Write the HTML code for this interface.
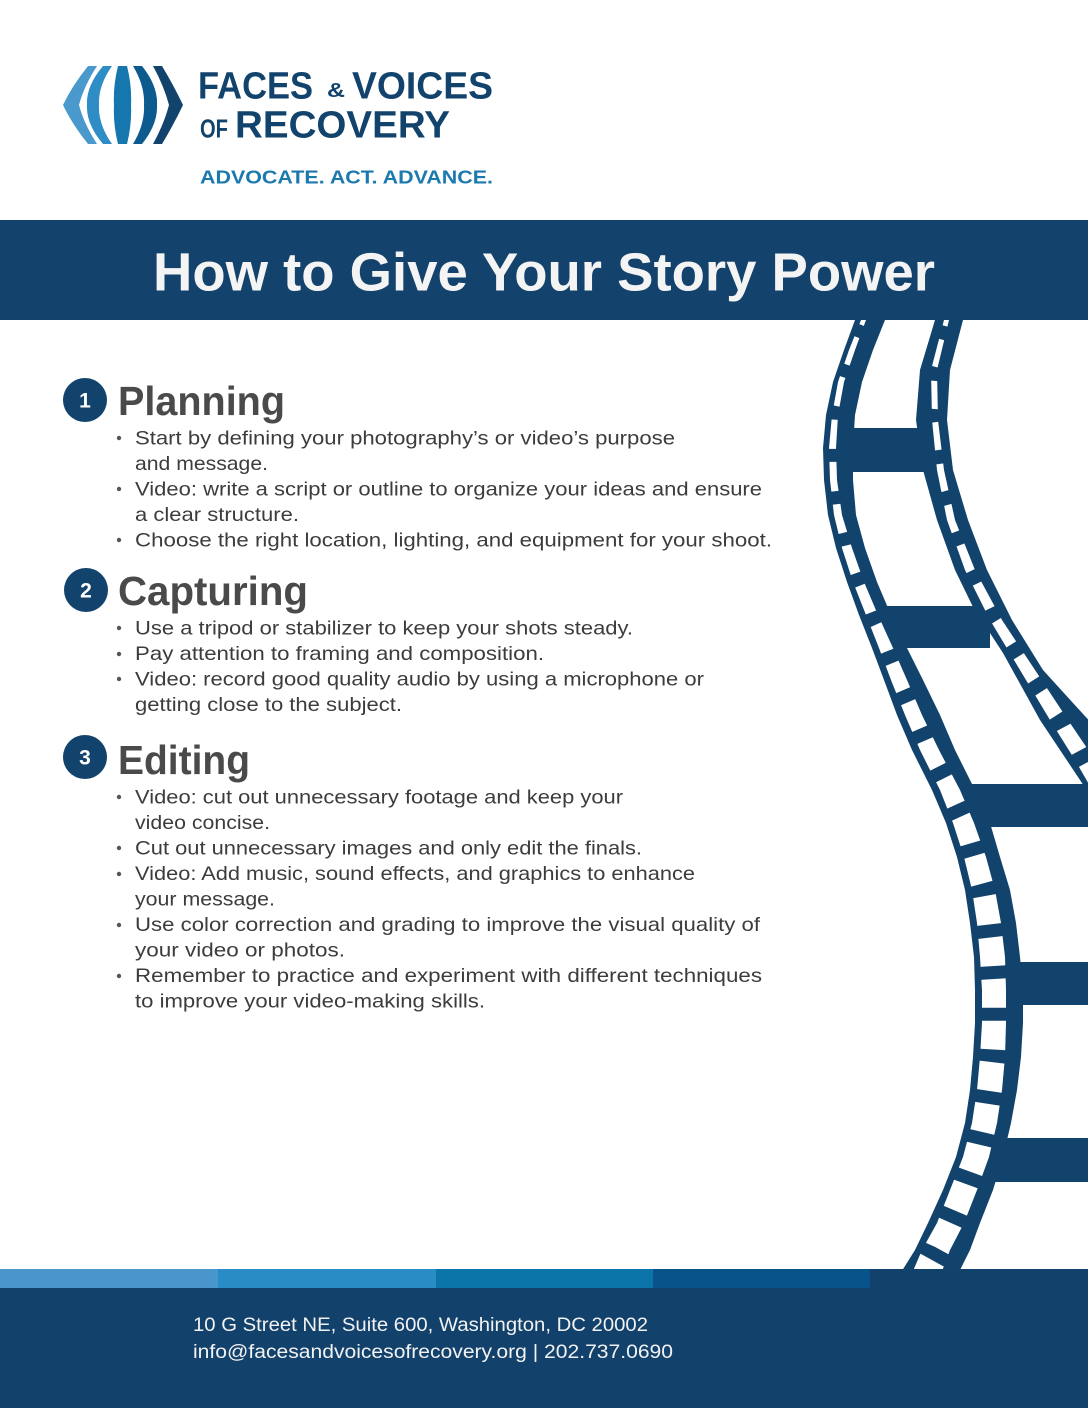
<!DOCTYPE html>
<html>
<head>
<meta charset="utf-8">
<style>
html,body{margin:0;padding:0;background:#fff;width:1088px;height:1408px;overflow:hidden}
svg{display:block}
</style>
</head>
<body>
<svg width="1088" height="1408" viewBox="0 0 1088 1408" xmlns="http://www.w3.org/2000/svg" font-family="'Liberation Sans', Arial, sans-serif">
<defs>
<mask id="mL" maskUnits="userSpaceOnUse" x="0" y="0" width="1088" height="1408">
<rect x="0" y="0" width="1088" height="1408" fill="black"/>
<path d="M877,300 L870,320 858,350 847,382 840,415 838,448 838,480 842,515 850,548 862,582 875,615 890,648 903,680 918,715 933,750 953,790 968,823 978,857 987,890 993,923 997,957 999,990 999,1023 997,1057 993,1090 988,1123 980,1157 968,1190 954,1223 942,1250 920,1290" fill="none" stroke="white" stroke-width="90" stroke-dasharray="29 13"/>
</mask>
<mask id="mR" maskUnits="userSpaceOnUse" x="0" y="0" width="1088" height="1408">
<rect x="0" y="0" width="1088" height="1408" fill="black"/>
<path d="M956,300 L949,320 935,370 931,420 938,470 952,520 971,570 995,620 1026,670 1058,720 1090,780 1110,800" fill="none" stroke="white" stroke-width="90" stroke-dasharray="28 14"/>
</mask>
</defs>

<rect x="0" y="0" width="1088" height="1408" fill="#ffffff"/>

<!-- Film strip -->
<g fill="#12436c">
<polygon points="862,300 855,320 844,350 833,382 826,415 823,448 824,480 828,515 836,548 847,582 859,615 872,648 884,680 897,715 912,750 932,790 946,823 957,857 965,890 970,923 974,957 975,990 975,1023 973,1057 970,1090 965,1123 956,1157 943,1190 928,1223 915,1250 890,1290 950,1290 970,1250 980,1223 993,1190 1003,1157 1011,1123 1017,1090 1021,1057 1023,1023 1023,990 1020,957 1016,923 1010,890 1000,857 990,823 975,790 955,750 940,715 923,680 907,648 891,615 877,582 865,548 856,515 853,480 853,448 855,415 862,382 873,350 885,320 892,300"/>
<polygon points="942,300 935,320 920,370 916,420 923,470 937,520 955,570 973,607 1003,653 1040,720 1080,780 1093,800 1130,800 1095,727 1073,703 1043,670 1012,620 987,570 968,520 953,470 947,420 950,370 963,320 970,300"/>
<rect x="845" y="428" width="80" height="44"/>
<rect x="875" y="606" width="115" height="42"/>
<rect x="955" y="784" width="133" height="43"/>
<rect x="1005" y="962" width="83" height="43"/>
<rect x="995" y="1138" width="93" height="44"/>
</g>
<polygon fill="#ffffff" mask="url(#mL)" points="867,300 861,320 849,350 838,382 832,415 829,448 830,480 834,515 842,548 853,582 866,615 879,648 891,680 905,715 920,750 940,790 953,823 964,857 972,890 977,923 980,957 982,990 982,1023 980,1057 977,1090 972,1123 963,1157 950,1190 937,1223 922,1250 905,1290 935,1290 950,1250 964,1223 977,1190 989,1157 997,1123 1002,1090 1005,1057 1006,1023 1006,990 1005,957 1001,923 995,890 986,857 974,823 960,790 939,750 922,715 907,680 893,648 878,615 864,582 852,548 842,515 837,480 836,448 838,415 844,382 855,350 866,320 872,300"/>
<polygon fill="#ffffff" mask="url(#mR)" points="951,300 944,320 931,370 932,420 937,470 947,520 965,570 990,620 1020,670 1050,720 1075,760 1098,800 1115,800 1095,760 1068,720 1035,670 1002,620 975,570 955,520 944,470 938,420 937,370 949,320 956,300"/>

<!-- Logo -->
<path fill="#4a99cd" d="M88,66 L97,66 Q84,86 79,105 Q84,124 97,144 L88,144 Q72,124 63,105 Q72,86 88,66 Z"/>
<path fill="#2f8dc5" d="M103,66 L112,66 Q98,86 99,105 Q98,124 112,144 L103,144 Q86,124 87,105 Q86,86 103,66 Z"/>
<path fill="#1577ae" d="M118,66 L127,66 Q132,86 131,105 Q132,124 127,144 L118,144 Q113,124 114,105 Q113,86 118,66 Z"/>
<path fill="#0d5a8e" d="M133,66 L142,66 Q158,86 157,105 Q158,124 142,144 L133,144 Q145,124 144,105 Q145,86 133,66 Z"/>
<path fill="#12436c" d="M153,66 L162,66 Q174,86 183,105 Q174,124 162,144 L153,144 Q164,124 169,105 Q164,86 153,66 Z"/>

<g fill="#12436c" font-weight="bold">
<text x="198" y="98.5" font-size="38" textLength="115" lengthAdjust="spacingAndGlyphs">FACES</text>
<text x="327" y="97" font-size="20" textLength="18" lengthAdjust="spacingAndGlyphs">&amp;</text>
<text x="352" y="98.5" font-size="38" textLength="141" lengthAdjust="spacingAndGlyphs">VOICES</text>
<text x="200" y="137.5" font-size="26" textLength="28" lengthAdjust="spacingAndGlyphs">OF</text>
<text x="235" y="137.5" font-size="38" textLength="215" lengthAdjust="spacingAndGlyphs">RECOVERY</text>
</g>
<text x="200" y="183.5" font-size="18" font-weight="bold" fill="#1b79ae" textLength="293" lengthAdjust="spacingAndGlyphs">ADVOCATE. ACT. ADVANCE.</text>

<!-- Header band -->
<rect x="0" y="220" width="1088" height="100" fill="#13436c"/>
<text x="153" y="290.5" font-size="54" font-weight="bold" fill="#f4f4f4" textLength="782" lengthAdjust="spacingAndGlyphs">How to Give Your Story Power</text>

<!-- Section numbers -->
<g fill="#12436c">
<circle cx="85" cy="400" r="22"/>
<circle cx="86" cy="590" r="22"/>
<circle cx="85" cy="757" r="22"/>
</g>
<g fill="#ffffff" font-size="21" font-weight="bold" text-anchor="middle">
<text x="85" y="407.5">1</text>
<text x="86" y="597.5">2</text>
<text x="85" y="764.5">3</text>
</g>

<!-- Headings -->
<g fill="#4a4a4a" font-size="41" font-weight="bold">
<text x="118" y="415" textLength="167" lengthAdjust="spacingAndGlyphs">Planning</text>
<text x="118" y="605" textLength="190" lengthAdjust="spacingAndGlyphs">Capturing</text>
<text x="118" y="774" textLength="132" lengthAdjust="spacingAndGlyphs">Editing</text>
</g>

<!-- Bullets -->
<g fill="#555555">
<circle cx="119" cy="438" r="2.2"/>
<circle cx="119" cy="489" r="2.2"/>
<circle cx="119" cy="540" r="2.2"/>
<circle cx="119" cy="628" r="2.2"/>
<circle cx="119" cy="654" r="2.2"/>
<circle cx="119" cy="679" r="2.2"/>
<circle cx="119" cy="797" r="2.2"/>
<circle cx="119" cy="848" r="2.2"/>
<circle cx="119" cy="874" r="2.2"/>
<circle cx="119" cy="925" r="2.2"/>
<circle cx="119" cy="976" r="2.2"/>
</g>

<!-- Body text -->
<g fill="#3c3c3c" font-size="19.5">
<text x="135" y="444.5" textLength="540" lengthAdjust="spacingAndGlyphs">Start by defining your photography’s or video’s purpose</text>
<text x="135" y="470" textLength="133" lengthAdjust="spacingAndGlyphs">and message.</text>
<text x="135" y="495.5" textLength="627" lengthAdjust="spacingAndGlyphs">Video: write a script or outline to organize your ideas and ensure</text>
<text x="135" y="521" textLength="164" lengthAdjust="spacingAndGlyphs">a clear structure.</text>
<text x="135" y="546.5" textLength="637" lengthAdjust="spacingAndGlyphs">Choose the right location, lighting, and equipment for your shoot.</text>

<text x="135" y="634.5" textLength="498" lengthAdjust="spacingAndGlyphs">Use a tripod or stabilizer to keep your shots steady.</text>
<text x="135" y="660" textLength="409" lengthAdjust="spacingAndGlyphs">Pay attention to framing and composition.</text>
<text x="135" y="685.5" textLength="569" lengthAdjust="spacingAndGlyphs">Video: record good quality audio by using a microphone or</text>
<text x="135" y="711" textLength="267" lengthAdjust="spacingAndGlyphs">getting close to the subject.</text>

<text x="135" y="803.5" textLength="488" lengthAdjust="spacingAndGlyphs">Video: cut out unnecessary footage and keep your</text>
<text x="135" y="829" textLength="135" lengthAdjust="spacingAndGlyphs">video concise.</text>
<text x="135" y="854.5" textLength="507" lengthAdjust="spacingAndGlyphs">Cut out unnecessary images and only edit the finals.</text>
<text x="135" y="880" textLength="560" lengthAdjust="spacingAndGlyphs">Video: Add music, sound effects, and graphics to enhance</text>
<text x="135" y="905.5" textLength="140" lengthAdjust="spacingAndGlyphs">your message.</text>
<text x="135" y="931" textLength="625" lengthAdjust="spacingAndGlyphs">Use color correction and grading to improve the visual quality of</text>
<text x="135" y="956.5" textLength="210" lengthAdjust="spacingAndGlyphs">your video or photos.</text>
<text x="135" y="982" textLength="627" lengthAdjust="spacingAndGlyphs">Remember to practice and experiment with different techniques</text>
<text x="135" y="1007.5" textLength="350" lengthAdjust="spacingAndGlyphs">to improve your video-making skills.</text>
</g>

<!-- Footer -->
<rect x="0" y="1269" width="218" height="20" fill="#4896cc"/>
<rect x="218" y="1269" width="218" height="20" fill="#2a8cc4"/>
<rect x="436" y="1269" width="217" height="20" fill="#0b74a8"/>
<rect x="653" y="1269" width="217" height="20" fill="#07538a"/>
<rect x="870" y="1269" width="218" height="20" fill="#12416b"/>
<rect x="0" y="1288" width="1088" height="120" fill="#12416b"/>
<g fill="#f2f2f2" font-size="19">
<text x="193" y="1331" textLength="455" lengthAdjust="spacingAndGlyphs">10 G Street NE, Suite 600, Washington, DC 20002</text>
<text x="193" y="1358" textLength="480" lengthAdjust="spacingAndGlyphs">info@facesandvoicesofrecovery.org | 202.737.0690</text>
</g>
</svg>
</body>
</html>
